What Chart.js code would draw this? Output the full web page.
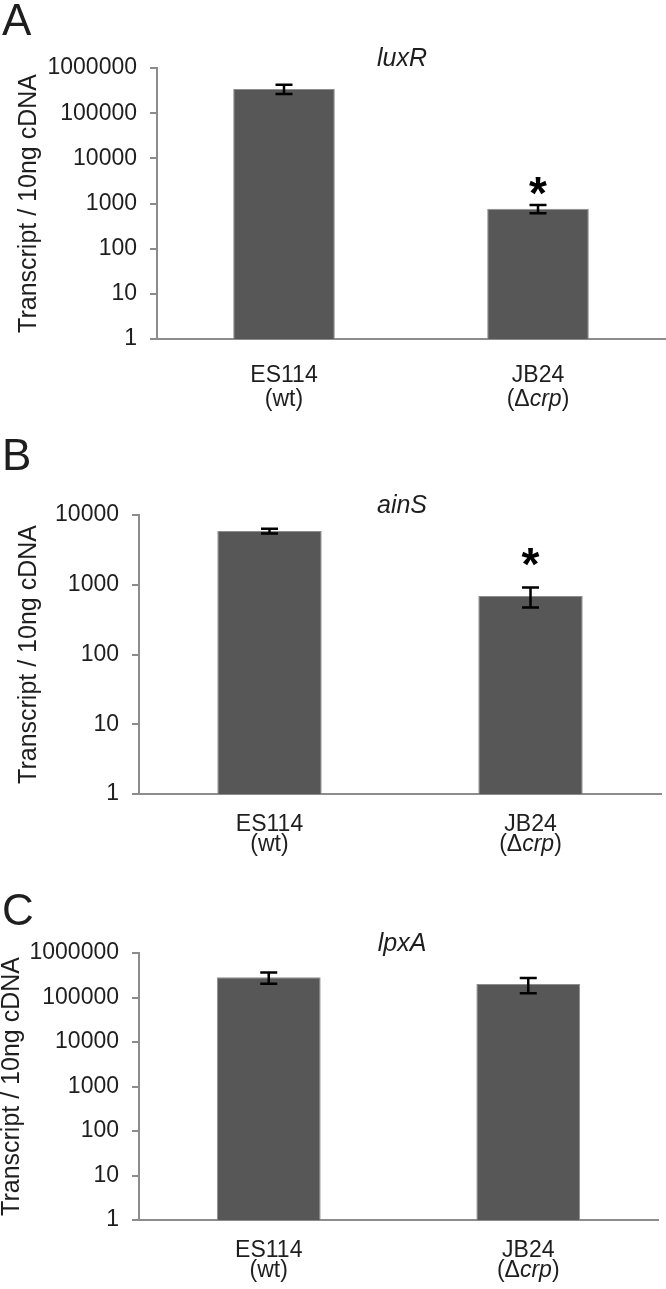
<!DOCTYPE html>
<html>
<head>
<meta charset="utf-8">
<script src="https://cdn.jsdelivr.net/npm/chart.js@4/dist/chart.umd.min.js"></script>
<style>
  body { margin: 0; background: #fff; }
  .panel { position: absolute; left: 0; width: 666px; }
</style>
</head>
<body>
<div class="panel" style="top:0px;height:430px"><canvas id="chartA" width="666" height="430"></canvas></div>
<div class="panel" style="top:430px;height:430px"><canvas id="chartB" width="666" height="430"></canvas></div>
<div class="panel" style="top:860px;height:429px"><canvas id="chartC" width="666" height="429"></canvas></div>
<script>
// data: STRAINS ON THE X AXIS
var strains = ["ES114", "JB24"];
// second line under each strain, parts marked italic or not
var genotypes = [
    [["(wt)", false]],
    [["(\u0394", false], ["crp", true], [")", false]]
];

// data: TRANSCRIPT / 10ng cDNA, MEAN AND ERROR
var luxRMeans = [345000, 770];
var luxRErrors = [80000, 160];
var luxRStars = [null, 2800];

var ainSMeans = [5900, 690];
var ainSErrors = [450, 220];
var ainSStars = [null, 2800];

var lpxAMeans = [285000, 200000];
var lpxAErrors = [80000, 75000];
var lpxAStars = [null, null];

// data: Y TICKS (log scale, powers of ten)
var ticksToMillion = [1, 10, 100, 1000, 10000, 100000, 1000000];
var ticksToTenThousand = [1, 10, 100, 1000, 10000];

var FONT = "'Liberation Sans', Arial, Helvetica, sans-serif";
var TEXT = "#1e1e1e";
var AXIS = "#8c8c8c";

// function: DRAW THE PANEL LETTER, GENE NAME, ERROR BARS, STARS & STRAIN LABELS
var annotate = {
    id: "annotate",
    afterDatasetsDraw: function(chart) {
        var p = chart.options.plugins.annotate;
        var ctx = chart.ctx;
        var area = chart.chartArea;
        var xs = chart.scales.x;
        var ys = chart.scales.y;
        ctx.save();
        ctx.fillStyle = TEXT;
        ctx.textBaseline = "alphabetic";

        ctx.font = "44px " + FONT;
        ctx.textAlign = "left";
        ctx.fillText(p.letter, 2, p.letterY);

        ctx.font = "italic 25px " + FONT;
        ctx.textAlign = "center";
        ctx.fillText(p.gene, 402, area.top - 2);

        var meta = chart.getDatasetMeta(0);
        meta.data.forEach(function(bar, i) {
            var top = ys.getPixelForValue(p.means[i] + p.errors[i]);
            var bottom = ys.getPixelForValue(p.means[i] - p.errors[i]);
            ctx.strokeStyle = "#000";
            ctx.lineWidth = 2.5;
            ctx.beginPath();
            ctx.moveTo(bar.x, top);
            ctx.lineTo(bar.x, bottom);
            ctx.moveTo(bar.x - 8.5, top);
            ctx.lineTo(bar.x + 8.5, top);
            ctx.moveTo(bar.x - 8.5, bottom);
            ctx.lineTo(bar.x + 8.5, bottom);
            ctx.stroke();
            if (p.stars[i]) {
                ctx.font = "bold 46px " + FONT;
                ctx.fillStyle = "#000";
                ctx.fillText("*", bar.x, ys.getPixelForValue(p.stars[i]) + 26);
                ctx.fillStyle = TEXT;
            }
        });

        // strain labels, two lines
        strains.forEach(function(name, i) {
            var cx = xs.getPixelForValue(i);
            ctx.textAlign = "center";
            ctx.font = "23px " + FONT;
            ctx.fillText(name, cx, area.bottom + p.labelGap[0]);
            var parts = genotypes[i];
            var total = 0;
            parts.forEach(function(part) {
                ctx.font = (part[1] ? "italic " : "") + "23px " + FONT;
                total += ctx.measureText(part[0]).width;
            });
            var left = cx - total / 2;
            ctx.textAlign = "left";
            parts.forEach(function(part) {
                ctx.font = (part[1] ? "italic " : "") + "23px " + FONT;
                ctx.fillText(part[0], left, area.bottom + p.labelGap[1]);
                left += ctx.measureText(part[0]).width;
            });
        });
        ctx.restore();
    }
};

// function: BUILD ONE PANEL
var makePanel = function(canvasId, opts) {
    return new Chart(document.getElementById(canvasId).getContext("2d"), {
        type: "bar",
        data: {
            labels: strains,
            datasets: [{
                data: opts.means,
                backgroundColor: "#575757",
                borderColor: "#8e8e8e",
                borderWidth: 1,
                barPercentage: 0.4,
                categoryPercentage: 1
            }]
        },
        options: {
            responsive: false,
            animation: false,
            layout: {
                padding: { top: opts.top, right: opts.right, left: 0, bottom: 0 }
            },
            plugins: {
                legend: { display: false },
                tooltip: { enabled: false },
                annotate: {
                    letter: opts.letter,
                    letterY: opts.letterY,
                    gene: opts.gene,
                    means: opts.means,
                    errors: opts.errors,
                    stars: opts.stars,
                    labelGap: opts.labelGap
                }
            },
            scales: {
                x: {
                    grid: { display: false },
                    border: { color: AXIS, width: 2 },
                    ticks: { display: false },
                    afterFit: function(scale) { scale.height = opts.xHeight; }
                },
                y: {
                    type: "logarithmic",
                    min: 1,
                    max: opts.ticks[opts.ticks.length - 1],
                    grid: { drawOnChartArea: false, drawTicks: true, tickLength: 7, color: AXIS, lineWidth: 2 },
                    border: { color: AXIS, width: 2 },
                    ticks: {
                        padding: 13,
                        color: TEXT,
                        font: { family: FONT, size: 23 },
                        callback: function(value) { return String(value); }
                    },
                    afterBuildTicks: function(scale) {
                        scale.ticks = opts.ticks.map(function(v) { return { value: v }; });
                    },
                    title: {
                        display: true,
                        text: "Transcript / 10ng cDNA",
                        color: TEXT,
                        font: { family: FONT, size: 25, lineHeight: 1 },
                        padding: { top: opts.titlePad, bottom: 0 }
                    },
                    afterFit: function(scale) { scale.width = opts.yWidth; }
                }
            }
        },
        plugins: [annotate]
    });
};

makePanel("chartA", {
    letter: "A", letterY: 35, gene: "luxR",
    means: luxRMeans, errors: luxRErrors, stars: luxRStars,
    ticks: ticksToMillion,
    top: 68, right: 1, xHeight: 91, yWidth: 157, titlePad: 17,
    labelGap: [43, 67]
});

makePanel("chartB", {
    letter: "B", letterY: 40, gene: "ainS",
    means: ainSMeans, errors: ainSErrors, stars: ainSStars,
    ticks: ticksToTenThousand,
    top: 85, right: 5, xHeight: 66, yWidth: 139, titlePad: 17,
    labelGap: [37, 57]
});

makePanel("chartC", {
    letter: "C", letterY: 65, gene: "lpxA",
    means: lpxAMeans, errors: lpxAErrors, stars: lpxAStars,
    ticks: ticksToMillion,
    top: 93, right: 8, xHeight: 69, yWidth: 139, titlePad: 0,
    labelGap: [37, 57]
});
</script>
</body>
</html>
